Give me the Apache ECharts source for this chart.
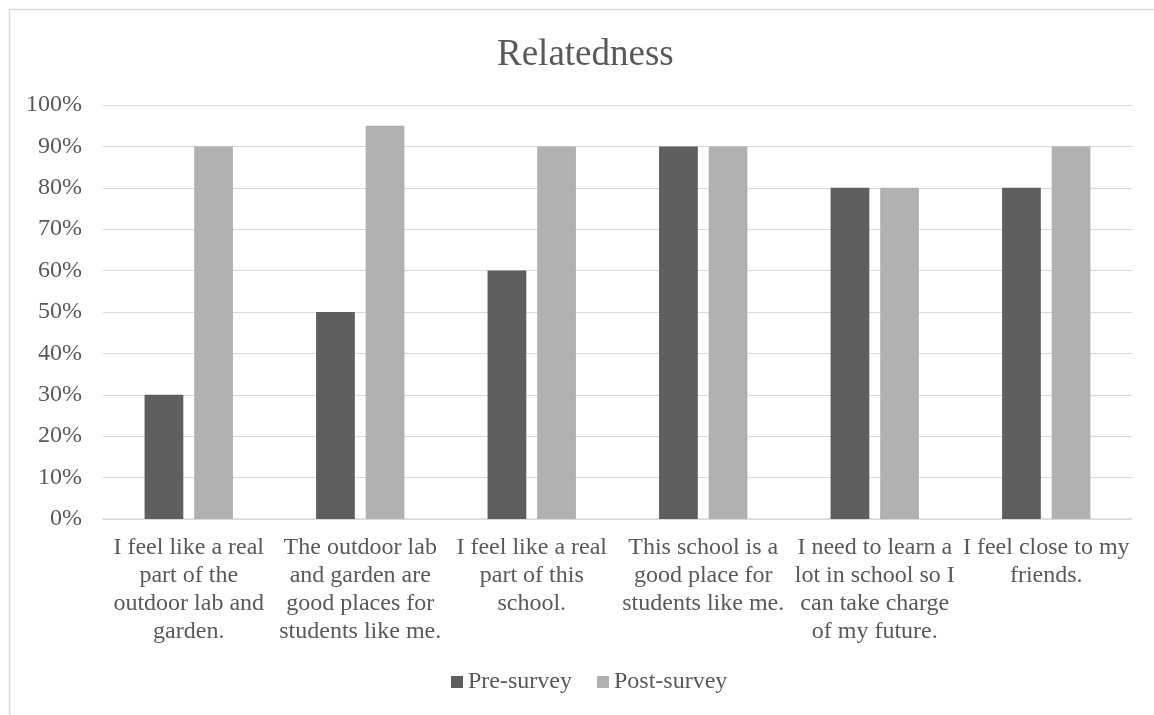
<!DOCTYPE html>
<html style="height: 100%">
<head>
    <meta charset="UTF-8">
    <title>Relatedness</title>
    <script src="https://cdn.jsdelivr.net/npm/echarts/dist/echarts.min.js"></script>
    <style>
        #main { width: 1154px; height: 715px; }
    </style>
</head>
<body style="height: 100%; margin: 0">
    <div id="main"></div>
    <script type="text/javascript">
        var categories = [
            'I feel like a real\npart of the\noutdoor lab and\ngarden.',
            'The outdoor lab\nand garden are\ngood places for\nstudents like me.',
            'I feel like a real\npart of this\nschool.',
            'This school is a\ngood place for\nstudents like me.',
            'I need to learn a\nlot in school so I\ncan take charge\nof my future.',
            'I feel close to my\nfriends.'
        ];
        var preSurvey = [30, 50, 60, 90, 80, 80];
        var postSurvey = [90, 95, 90, 90, 80, 90];

        var serif = '"Liberation Serif", "Times New Roman", serif';
        var textColor = '#595959';

        var chartDom = document.getElementById('main');
        var myChart = echarts.init(chartDom);

        // the chart frame runs past the right edge, so title/legend sit a bit right of page centre
        var option = {
            animation: false,
            textStyle: { fontFamily: serif },
            title: {
                text: 'Relatedness',
                left: 492,
                top: 32,
                textStyle: { fontFamily: serif, fontSize: 37, fontWeight: 'normal', color: textColor }
            },
            legend: {
                bottom: 16,
                left: 446,
                itemWidth: 12,
                itemHeight: 12,
                itemGap: 25,
                icon: 'rect',
                textStyle: { fontFamily: serif, fontSize: 24, color: textColor },
                data: ['Pre-survey', 'Post-survey']
            },
            grid: { left: 103, right: 22, top: 105, bottom: 196 },
            xAxis: {
                type: 'category',
                data: categories,
                axisLine: { lineStyle: { color: '#d9d9d9', width: 1.5 } },
                axisTick: { show: false },
                axisLabel: {
                    interval: 0,
                    margin: 15,
                    fontFamily: serif,
                    fontSize: 24,
                    lineHeight: 28,
                    color: textColor
                }
            },
            yAxis: {
                type: 'value',
                min: 0,
                max: 100,
                interval: 10,
                axisLine: { show: false },
                axisTick: { show: false },
                splitLine: { lineStyle: { color: '#d9d9d9', width: 1.2 } },
                axisLabel: {
                    formatter: '{value}%',
                    margin: 21,
                    fontFamily: serif,
                    fontSize: 24,
                    color: textColor
                }
            },
            series: [
                {
                    name: 'Pre-survey',
                    type: 'bar',
                    data: preSurvey,
                    barWidth: '22.6%',
                    barGap: '28%',
                    itemStyle: { color: '#5f5f5f' }
                },
                {
                    name: 'Post-survey',
                    type: 'bar',
                    data: postSurvey,
                    barWidth: '22.6%',
                    itemStyle: { color: '#b1b1b1' }
                }
            ],
            graphic: [
                {
                    type: 'rect',
                    silent: true,
                    shape: { x: 9.5, y: 9.5, width: 1200, height: 800 },
                    style: { fill: 'none', stroke: '#d9d9d9', lineWidth: 1.5 }
                }
            ]
        };

        myChart.setOption(option);
    </script>
</body>
</html>
